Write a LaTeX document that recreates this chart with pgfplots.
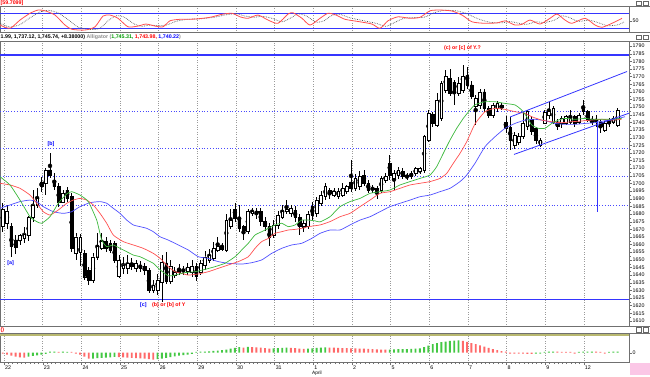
\documentclass[border=0pt]{standalone}
\usepackage{pgfplots}
\pgfplotsset{compat=1.18}
\usepackage{pgfplotstable}
\usepackage{fontspec}
\setmainfont{Liberation Sans}
\definecolor{lineblue}{HTML}{3535FF}
\definecolor{dotblue}{HTML}{4848FF}
\definecolor{magreen}{HTML}{3CB83C}
\definecolor{mared}{HTML}{FF5050}
\definecolor{mablue}{HTML}{5050FF}
\definecolor{hgreen}{HTML}{44C844}
\definecolor{hred}{HTML}{FF6A6A}
\definecolor{framegray}{HTML}{707070}
\definecolor{gridgray}{HTML}{9A9A9A}
\definecolor{olivel}{HTML}{B8B870}
\newcommand\tf{\fontsize{5.3}{6}\selectfont}

\pgfplotstableread{
x o h l c
2.7 1672 1687 1668 1683
7.0 1674 1686 1670 1682
11.3 1672 1674 1652 1658.6
15.6 1663 1666 1654 1658.5
19.9 1663 1667 1660 1666
24.2 1664 1671.7 1661 1667
28.5 1666 1679 1662 1678
32.8 1678 1695.7 1675 1686
37.1 1686 1696.8 1684 1690
41.4 1701 1704 1694.6 1698
45.7 1700 1710 1692.4 1708.8
50.0 1708.8 1719.7 1703.3 1705.5
54.3 1702 1706.6 1695.7 1697.9
58.6 1697.9 1700 1684.8 1688
62.9 1688 1695.7 1687 1693.5
67.2 1695.7 1697.9 1688 1690.2
71.5 1691.3 1694 1655 1657.5
75.8 1654.2 1667.3 1649.8 1665.1
80.1 1655 1667 1646 1664.5
84.4 1654.2 1656.4 1636.8 1638.9
88.7 1643.3 1645.5 1633.5 1636.8
93.0 1636.8 1654.2 1634.6 1652
97.3 1652 1667.3 1649.8 1658.6
101.6 1657.5 1667.3 1656.4 1661.9
105.9 1661.9 1665 1655.3 1657.5
110.2 1660.8 1663 1654.2 1656.4
114.5 1660.8 1662 1647.6 1649.8
118.8 1639 1653 1638 1649.8
123.1 1644.4 1652 1641 1646.6
127.4 1644.4 1653 1641 1647.6
131.7 1647.6 1651 1643 1645.5
136.0 1644.4 1650 1642 1647.6
140.3 1646.6 1649 1642 1644.4
144.6 1645.5 1648 1640 1643.3
148.9 1643.3 1644.4 1628 1630.2
153.2 1630.2 1636.8 1628 1633.5
157.5 1630.2 1641 1627 1636.8
161.8 1635.6 1653 1622.5 1648.7
166.1 1648 1655 1634 1636
170.4 1636 1650 1634 1646
174.7 1640 1645 1638 1642
179.0 1644 1647 1640 1642
183.3 1643.5 1646 1640 1642.5
187.6 1642.5 1648 1640 1645
191.9 1642 1650 1639 1646
196.2 1645.5 1648 1636 1639
200.5 1642 1650 1640 1647.6
204.8 1646.6 1656 1643 1652
209.1 1650 1657 1648 1653
213.4 1651 1661.9 1649 1657.5
217.7 1656.4 1665 1655 1658.6
222.0 1658 1661 1656 1657
226.3 1656.4 1680 1655 1676
230.6 1672 1683 1670 1676
234.9 1683 1687 1675 1677
239.2 1678 1686 1668 1670.6
243.5 1671.7 1673 1663 1669.5
247.8 1668.4 1683 1667 1681.5
252.1 1680.5 1684 1679 1681.5
256.4 1682 1684 1677 1681
260.7 1681.5 1684 1672 1675
265.0 1675 1678 1669 1671.7
269.3 1672 1674 1659 1665
273.6 1666 1676 1664 1672.7
277.9 1672.7 1682 1670 1679.3
282.2 1678 1686 1677 1681.5
286.5 1681.5 1689 1680 1683
290.8 1680.5 1686 1678 1683.7
295.1 1682.6 1685 1675 1678
299.4 1678 1680 1666 1671.7
303.7 1671.7 1676 1668 1674
308.0 1672 1682 1670 1680
312.3 1685 1688 1676 1679.3
316.6 1680.4 1691 1678 1689.2
320.9 1687 1695 1685 1692.4
325.2 1691.3 1700 1689 1697.9
329.5 1695.3 1697 1690 1693.5
333.8 1692.4 1697 1691 1694.6
338.1 1691.3 1697 1690 1694.6
342.4 1692.4 1700 1691 1696.8
346.7 1694.6 1699 1693 1697.9
351.0 1701 1715.3 1694.6 1696.8
355.3 1696.8 1706 1695 1703.3
359.6 1697.9 1708 1696 1704.4
363.9 1705.5 1708.8 1698 1700
368.2 1700 1702 1694 1695.7
372.5 1697 1699 1694 1696
376.8 1696.8 1698 1690 1695.7
381.1 1695.7 1705 1694 1703.3
385.4 1702 1707 1700 1704.4
389.7 1713.2 1718.6 1702 1705.5
394.0 1703.3 1709 1696 1706.6
398.3 1705.5 1711 1703 1708.8
402.6 1707.7 1710 1703 1704.4
406.9 1704.4 1707 1702 1705.5
411.2 1706.6 1708 1703 1704.4
415.5 1706.6 1711 1705 1709.9
419.8 1707.7 1711 1706 1709.9
424.1 1708.8 1732 1707 1730.6
428.4 1728.4 1748 1727 1745.9
432.7 1745 1747 1737 1739.5
437.0 1738 1759 1737 1754.6
441.3 1743 1767 1741 1765.5
445.6 1761 1774 1759 1770
449.9 1769 1775 1757 1759
454.2 1766 1768 1751.4 1759.5
458.5 1759 1770 1757 1765.5
462.8 1761 1777.6 1759 1770
467.1 1771 1776 1762 1764.5
471.4 1764.5 1767 1755 1756.8
475.7 1750.3 1758 1738 1755.7
480.0 1751.4 1762 1749 1760
484.3 1760 1762 1747 1749.2
488.6 1749.2 1751 1743 1744.8
492.9 1744.8 1753 1743 1751.4
497.2 1749.2 1754 1747 1752.5
501.5 1751 1752.5 1748 1750
505.8 1740 1744 1733 1736
510.1 1736.5 1743.7 1721.9 1728.4
514.4 1725.2 1734 1722.5 1731.7
518.7 1727.3 1733 1725 1730.6
523.0 1730.6 1747 1729 1739.3
527.3 1737.2 1748 1735 1747
531.6 1742 1744 1732 1734
535.9 1736 1737 1726 1728.4
540.2 1725 1730 1724 1728
544.5 1739.6 1748 1739 1746.5
548.8 1744.8 1753.5 1742 1747
553.1 1740.4 1751 1739 1749.2
557.4 1740.4 1742 1735 1737.2
561.7 1739.3 1744 1736 1742.6
566.0 1739.3 1745 1738 1743.7
570.3 1740.4 1748 1739 1742.6
574.6 1743.7 1745 1737 1739.3
578.9 1740.4 1746 1739 1744.8
583.2 1749.2 1754.6 1745 1747
587.5 1747 1748 1740 1741.5
591.8 1742 1744 1738 1740.4
596.1 1741 1745 1737 1740.5
600.4 1740.4 1742 1732.8 1737.2
604.7 1735 1741 1734 1739.3
609.0 1741.5 1743 1737 1739.3
613.3 1740.4 1744 1739 1742.6
617.6 1738.3 1749.2 1737 1748
}\candles

\pgfplotsset{
  base/.style={scale only axis, width=629pt, xmin=0, xmax=629, clip=true,
    axis line style={draw=framegray, line width=0.6pt},
    xtick={4,42.65,81.3,119.95,158.6,197.25,235.9,274.55,313.2,351.85,390.5,429.15,467.8,506.45,545.1,583.75},
    xticklabels={}, xtick style={draw=none},
    xmajorgrids, major grid style={gridgray, dotted, line width=0.5pt},
    tick align=outside, major tick length=2.5pt, minor tick length=1.5pt,
    yticklabel pos=right, ytick pos=right, ytick style={framegray},
    yticklabel style={font=\tf, /pgf/number format/1000 sep={}, /pgf/number format/assume math mode=true, inner sep=1pt}},
  over/.style={scale only axis, width=629pt, xmin=0, xmax=629, axis lines=none, ticks=none},
  mainy/.style={at={(0pt,-41.7pt)}, anchor=north west, height=284.8pt, ymin=1606.3, ymax=1792.82},
}

\begin{document}
\begin{tikzpicture}
\useasboundingbox (0,0) rectangle (650pt,-376pt);

% ---------- top oscillator panel ----------
\begin{axis}[base, at={(0pt,-6pt)}, anchor=north west, height=26.5pt, ymin=3.2, ymax=109.2, ytick={50}]
\addplot[lineblue, line width=1.2pt] coordinates {(0,80)(629,80)};
\addplot[lineblue, line width=1.2pt] coordinates {(0,20)(629,20)};
\addplot[black!65, densely dotted, line width=0.7pt, smooth, tension=0.4] coordinates {
(0,40)(10,25)(20,35)(30,62)(40,85)(48,92)(58,82)(68,55)(78,25)(90,15)(100,20)(108,50)(116,70)(124,65)(134,38)(142,28)(150,33)(160,30)(168,35)(176,48)(188,56)(200,58)(214,64)(226,74)(236,79)(244,70)(254,64)(262,68)(272,60)(282,46)(292,64)(298,78)(306,70)(316,45)(324,50)(332,72)(340,76)(350,62)(364,50)(376,40)(386,28)(394,42)(404,60)(414,63)(424,64)(434,82)(444,92)(456,90)(466,80)(478,58)(490,44)(502,42)(510,47)(519,40)(527,36)(536,46)(544,43)(554,52)(562,70)(570,62)(578,48)(590,52)(600,40)(608,30)(618,34)(624,45)};
\addplot[mared, line width=0.8pt, smooth, tension=0.4] coordinates {
(0,33)(10,20)(20,53)(30,80)(38,93)(45,90)(55,73)(65,33)(72,16)(85,13)(95,26)(103,69)(110,73)(118,60)(128,26)(138,29)(146,37)(155,29)(163,26)(170,50)(180,56)(195,57)(210,64)(222,76)(232,80)(240,66)(248,60)(258,73)(268,53)(278,40)(288,77)(293,82)(302,60)(310,33)(320,60)(328,80)(336,73)(345,56)(360,46)(372,37)(380,20)(388,50)(398,66)(410,60)(420,64)(430,90)(440,93)(452,89)(462,73)(472,46)(485,40)(498,42)(505,50)(515,33)(522,36)(530,53)(540,37)(550,60)(557,77)(565,53)(572,40)(585,60)(595,33)(602,24)(612,40)(622,60)};
\end{axis}

% ---------- main panel: background, levels, wicks ----------
\begin{axis}[base, mainy, ytick={1610,1615,...,1790}, minor y tick num=1]
\addplot[lineblue, line width=1.6pt] coordinates {(0,1784)(629,1784)};
\addplot[lineblue, line width=1.6pt] coordinates {(0,1624)(629,1624)};
\addplot[dotblue, dotted, line width=0.8pt] coordinates {(0,1747)(629,1747)};
\addplot[dotblue, dotted, line width=0.8pt] coordinates {(0,1723)(629,1723)};
\addplot[dotblue, dotted, line width=0.8pt] coordinates {(0,1704.4)(629,1704.4)};
\addplot[dotblue, dotted, line width=0.8pt] coordinates {(0,1685.4)(629,1685.4)};
\addplot[only marks, mark=none, black, error bars/.cd, y dir=both, y explicit, error mark=none,
  error bar style={black, line width=0.5pt}]
  table[x=x, y expr={(\thisrow{h}+\thisrow{l})/2}, y error expr={(\thisrow{h}-\thisrow{l})/2}]{\candles};
\end{axis}

% ---------- candle bodies ----------
\begin{axis}[over, mainy, ybar stacked, bar width=2.7]
\addplot[draw=none, fill=none] table[x=x, y expr={min(\thisrow{o},\thisrow{c})}]{\candles};
\addplot[fill=white, draw=black, line width=0.45pt] table[x=x, y expr={max(\thisrow{c}-\thisrow{o},0)}]{\candles};
\addplot[fill=black, draw=black, line width=0.45pt] table[x=x, y expr={max(\thisrow{o}-\thisrow{c},0)}]{\candles};
\end{axis}

% ---------- moving averages and drawings ----------
\begin{axis}[over, mainy]
\addplot[mablue, line width=0.7pt, smooth, tension=0.3] coordinates {
(0,1683.7)(10,1685.9)(20,1688.1)(30,1689.1)(36.7,1688.1)(43.3,1684.8)(53.3,1681.5)(63.3,1680.4)(71.7,1681.5)(80,1684.8)(90,1687.4)(100,1688.1)(106.7,1687.0)(113.3,1683.7)(120,1680.4)(126.7,1676.0)(133.3,1672.8)(140,1671.7)(146.7,1670.6)(153.3,1668.4)(160,1665.1)(168.3,1662.9)(178.3,1659.7)(188.3,1656.4)(198.3,1652.0)(208.3,1650.9)(218.3,1648.8)(228.3,1647.7)(241.7,1647.2)(251.7,1648.1)(261.7,1649.9)(271.7,1654.2)(281.7,1657.5)(291.7,1659.7)(301.7,1660.8)(311.7,1664.0)(320,1667.3)(330,1669.5)(340,1669.5)(350,1672.8)(360,1676.0)(370,1678.2)(380,1681.5)(390,1684.8)(400,1687.0)(410,1689.1)(420,1691.3)(430,1692.4)(440,1694.6)(450,1696.8)(460,1701.2)(466.7,1705.5)(475,1713.2)(485,1724.1)(495,1730.6)(505,1736.1)(515,1739.3)(525,1741.5)(535,1742.0)(545,1741.1)(555,1739.3)(565,1738.7)(575,1738.7)(585,1739.3)(595,1739.8)(605,1741.1)(615,1742.0)(625,1743.7)};
\addplot[mared, line width=0.7pt, smooth, tension=0.3] coordinates {
(0,1700.1)(10,1699.0)(20,1696.8)(30,1692.4)(36.7,1687.0)(43.3,1681.5)(50,1679.3)(58.3,1682.6)(66.7,1687.0)(73.3,1689.1)(80,1690.2)(86.7,1689.1)(93.3,1685.9)(100,1680.4)(106.7,1673.9)(113.3,1666.2)(123.3,1661.9)(133.3,1659.7)(143.3,1657.5)(153.3,1654.2)(160,1651.0)(168.3,1645.5)(175,1642.2)(181.7,1641.1)(188.3,1640.0)(198.3,1640.7)(208.3,1642.2)(218.3,1644.4)(228.3,1646.6)(238.3,1648.8)(248.3,1652.0)(255,1657.5)(261.7,1661.9)(268.3,1664.0)(275,1667.3)(281.7,1668.4)(288.3,1669.5)(295,1669.9)(301.7,1670.6)(308.3,1671.7)(320,1672.8)(330,1675.0)(340,1678.2)(350,1680.4)(360,1684.8)(370,1689.1)(380,1693.5)(390,1694.6)(400,1696.8)(410,1699.0)(420,1700.1)(430,1701.2)(440,1703.3)(446.7,1706.6)(453.3,1713.2)(460,1719.7)(466.7,1727.3)(475,1739)(485,1747)(495,1749.2)(505,1748.5)(515,1747.0)(525,1745.9)(531.7,1743.7)(541.7,1741.5)(551.7,1740.4)(561.7,1739.8)(571.7,1740.4)(581.7,1740.9)(591.7,1741.5)(601.7,1742.0)(611.7,1741.5)(621.7,1742.0)};
\addplot[magreen, line width=0.7pt, smooth, tension=0.3] coordinates {
(0,1704.4)(10,1699.0)(20,1689.1)(30,1678.2)(36.7,1675.0)(41.7,1673.9)(50,1678.2)(58.3,1687.0)(66.7,1693.1)(71.7,1694.6)(80,1692.4)(88.3,1688.1)(96.7,1676.0)(101.7,1662.9)(106.7,1658.6)(113.3,1659.7)(120,1657.5)(126.7,1655.3)(133.3,1653.1)(140,1652.0)(146.7,1649.9)(153.3,1647.7)(160,1643.5)(168.3,1639.5)(175,1640.0)(185,1641.6)(195,1642.2)(205,1643.7)(215,1645.5)(225,1647.7)(235,1652.0)(241.7,1656.4)(248.3,1660.8)(255,1666.2)(261.7,1668.4)(268.3,1670.6)(275,1672.8)(281.7,1673.9)(288.3,1671.7)(295,1672.8)(301.7,1676.0)(308.3,1676.0)(315,1675.5)(320,1674.8)(330,1678.2)(340,1684.8)(350,1688.1)(360,1690.2)(370,1693.5)(380,1694.6)(390,1695.7)(400,1699.0)(410,1701.2)(420,1703.3)(430,1705.5)(436.7,1711.0)(443.3,1719.7)(450,1728.4)(456.7,1736.1)(463.3,1742.6)(470,1748.1)(475,1751.5)(485,1753.5)(495,1753.5)(505,1752.4)(515,1751.4)(521.7,1748.1)(526.7,1743.7)(531.7,1738.3)(538.3,1736.1)(545,1736.1)(551.7,1739.3)(558.3,1741.5)(565,1742.6)(575,1742.0)(585,1742.6)(591.7,1742.0)(601.7,1742.0)(611.7,1742.0)(621.7,1742.6)};
% channel and target line
\addplot[lineblue, line width=0.8pt] coordinates {(510,1743.5)(627,1773.3)};
\addplot[lineblue, line width=0.8pt] coordinates {(514,1719)(629,1746)};
\addplot[lineblue, line width=0.8pt] coordinates {(597,1741)(597,1681)};
\end{axis}

% ---------- bottom histogram panel ----------
\begin{axis}[base, at={(0pt,-333pt)}, anchor=north west, height=29.7pt, ymin=-10, ymax=19.7, ytick={0},
  xticklabels={22,23,24,25,26,29,30,31,1,2,5,6,7,8,9,12},
  xtick style={draw=framegray}, xtick pos=lower, minor x tick num=8,
  xticklabel style={font=\tf, anchor=north west, inner sep=0.5pt, xshift=0.5pt}]
\addplot[olivel, line width=1.6pt] coordinates {(0,17.7)(629,17.7)};
\addplot[ybar, bar width=1.9, bar shift=0pt, fill=hgreen, draw=none] coordinates {
(28.5,-4)(32.8,-3.2)(37.1,-2.6)(41.4,-2)(45.7,-1.2)(50,1)(54.3,1.2)(62.9,1.1)(67.2,0.9)
(93,-6)(97.3,-5.5)(101.6,-5.2)(105.9,-5)(110.2,-4.6)(114.5,-4.2)
(157.5,-6.5)(161.8,-5.8)(166.1,-5.2)(170.4,-4.4)(174.7,-3.6)(179,-3)(183.3,-2.4)(187.6,-1.8)(191.9,-1.2)(196.2,0.8)(200.5,1)(204.8,1.2)(209.1,1.4)(213.4,1.8)(217.7,2.2)(222,2.6)(226.3,3.2)(230.6,4)(234.9,4.8)(239.2,5.5)
(247.8,5.8)(273.6,4.3)(277.9,4.5)(282.2,4.8)(286.5,5)
(308,4)(312.3,4.3)(316.6,4.8)(320.9,5)(325.2,5.3)
(389.7,3.1)(394,3.3)(398.3,3.5)(402.6,3.6)(406.9,3.7)(411.2,3.9)(415.5,4.1)(419.8,4.4)(424.1,5.5)(428.4,7)(432.7,8.5)(437,9.5)(441.3,10.5)(445.6,11.2)(449.9,11.8)(454.2,12.2)(458.5,12.4)
(535.9,-0.9)(540.2,-0.8)(544.5,0.8)(548.8,1)(553.1,1.1)
(578.9,0.8)(583.2,1)(587.5,1.1)(591.8,1.2)(609,0.8)(613.3,1)(617.6,1.2)};
\addplot[ybar, bar width=1.9, bar shift=0pt, fill=hred, draw=none] coordinates {
(2.7,-1)(7,-2)(11.3,-3)(15.6,-4)(19.9,-4.6)(24.2,-4.8)(58.6,0.9)
(71.5,0.8)(75.8,-1)(80.1,-2)(84.4,-4)(88.7,-6)
(118.8,-4.4)(123.1,-4.7)(127.4,-5)(131.7,-5.2)(136,-5.4)(140.3,-5.7)(144.6,-6)(148.9,-6.5)(153.2,-7)
(243.5,5.2)(252.1,5.6)(256.4,5.3)(260.7,5)(265,4.6)(269.3,4.2)
(290.8,4.8)(295.1,4.5)(299.4,4.2)(303.7,3.8)
(329.5,5.2)(333.8,5)(338.1,4.8)(342.4,4.6)(346.7,4.5)(351,4.4)(355.3,4.3)(359.6,4.2)(363.9,4)(368.2,3.8)(372.5,3.6)(376.8,3.4)(381.1,3.2)(385.4,3)
(462.8,11.8)(467.1,10.8)(471.4,9.7)(475.7,8.5)(480,7.3)(484.3,6)(488.6,4.8)(492.9,3.7)(497.2,2.6)(501.5,1.6)(505.8,1)(510.1,-0.8)(514.4,-0.9)(518.7,-1)(523,-1)(527.3,-1.1)(531.6,-1.1)
(557.4,1)(561.7,0.9)(566,0.8)(570.3,0.8)(574.6,-0.8)(596.1,1)(600.4,0.9)(604.7,-0.8)};
\end{axis}

% ---------- frames, headers and labels ----------
\draw[framegray, line width=0.6pt] (0,-6pt) -- (650pt,-6pt);
\draw[framegray, line width=0.6pt] (0,-32.5pt) -- (650pt,-32.5pt);
\draw[framegray, line width=0.6pt] (0,-41.7pt) -- (650pt,-41.7pt);
\draw[framegray, line width=0.6pt] (0,-326.5pt) -- (650pt,-326.5pt);
\draw[framegray, line width=0.6pt] (0,-333pt) -- (650pt,-333pt);
\fill[magenta!22] (629.5pt,-363.2pt) rectangle (650pt,-375pt);
\foreach \yy in {3.2,37,329.8}{
  \draw[black!60, fill=white, line width=0.4pt] (636pt,-\yy pt+2.2pt) rectangle (641pt,-\yy pt-2.2pt);
  \draw[black!60, fill=white, line width=0.4pt] (643pt,-\yy pt+2.2pt) rectangle (648pt,-\yy pt-2.2pt);
}
\node[anchor=west, inner sep=0, text=red, font=\tf\bfseries] at (0.5pt,-3.2pt) {[59.7099]};
\node[anchor=west, inner sep=0, font=\tf\bfseries] at (0.5pt,-37pt) {1.99, 1,737.12, 1,745.74, +8.38000) \textcolor{black!45}{Alligator (}\textcolor{green!60!black}{1,745.31,} \textcolor{red}{1,743.98,} \textcolor{blue}{1,740.22}\textcolor{black!45}{)}};
\node[anchor=west, inner sep=0, text=red, font=\tf\bfseries] at (0.5pt,-329.8pt) {()};
\node[inner sep=0, text=blue, font=\tf\bfseries] at (51pt,-144.3pt) {[b]};
\node[inner sep=0, text=blue, font=\tf\bfseries] at (10.7pt,-262.7pt) {[a]};
\node[inner sep=0, text=blue, font=\tf\bfseries] at (143.3pt,-305pt) {[c]};
\node[anchor=west, inner sep=0, text=red, font=\tf\bfseries] at (152pt,-305pt) {(b) or [b] of Y};
\node[inner sep=0, text=red, font=\tf\bfseries] at (462.5pt,-48.6pt) {(c) or [c] of Y.?};
\node[inner sep=0, font=\fontsize{4.8}{5}\selectfont] at (317pt,-373.4pt) {April};
\end{tikzpicture}
\end{document}
